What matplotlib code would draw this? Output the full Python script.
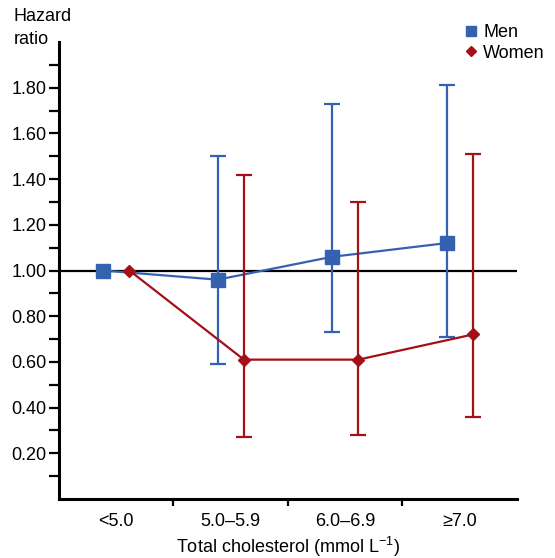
import numpy as np
import matplotlib
matplotlib.use("Agg")
import matplotlib.pyplot as plt
from matplotlib.ticker import FixedLocator, NullFormatter, FormatStrFormatter

plt.rcParams["font.family"] = ["Liberation Sans", "DejaVu Sans"]
plt.rcParams["mathtext.fontset"] = "custom"
plt.rcParams["mathtext.rm"] = "Liberation Sans"
plt.rcParams["mathtext.default"] = "regular"

categories = ["<5.0", "5.0\u20135.9", "6.0\u20136.9", "\u22657.0"]

men_hr = [1.00, 0.96, 1.06, 1.12]
men_lo = [1.00, 0.59, 0.73, 0.71]
men_hi = [1.00, 1.50, 1.73, 1.81]

women_hr = [1.00, 0.61, 0.61, 0.72]
women_lo = [1.00, 0.27, 0.28, 0.36]
women_hi = [1.00, 1.42, 1.30, 1.51]

men_color = "#3462B0"
women_color = "#A50F18"
FS = 13

fig = plt.figure(figsize=(5.55, 5.58), dpi=100)
ax = fig.add_axes([0.1063, 0.1057, 0.8252, 0.819])

centers = np.arange(len(categories)) + 0.5
offset = 0.115

ax.axhline(1.0, color="black", lw=1.6, zorder=1)


def draw_series(x, hr, lo, hi, color, marker, ms, label, z):
    hr = np.asarray(hr)
    err = np.vstack([hr - np.asarray(lo), np.asarray(hi) - hr])
    has_ci = err.sum(axis=0) > 0
    ax.errorbar(x[has_ci], hr[has_ci], yerr=err[:, has_ci], fmt="none",
                ecolor=color, elinewidth=1.6, capsize=6, capthick=1.6, zorder=z)
    ax.plot(x, hr, color=color, lw=1.6, marker=marker, ms=ms,
            mfc=color, mec=color, label=label, zorder=z + 1)


draw_series(centers - offset, men_hr, men_lo, men_hi, men_color, "s", 10.5, "Men", 2)
draw_series(centers + offset, women_hr, women_lo, women_hi, women_color, "D", 6.6, "Women", 4)

ax.set_xlim(0, len(categories))
ax.set_ylim(0, 2.0)

ax.xaxis.set_major_locator(FixedLocator([1, 2, 3]))
ax.xaxis.set_major_formatter(NullFormatter())
ax.xaxis.set_minor_locator(FixedLocator(centers))
ax.set_xticklabels(categories, minor=True)
ax.tick_params(axis="x", which="major", direction="out", length=5, width=1.6)
ax.tick_params(axis="x", which="minor", length=0, pad=10, labelsize=FS)

ax.yaxis.set_major_locator(FixedLocator([0.2, 0.4, 0.6, 0.8, 1.0, 1.2, 1.4, 1.6, 1.8]))
ax.yaxis.set_major_formatter(FormatStrFormatter("%.2f"))
ax.yaxis.set_minor_locator(FixedLocator([0.1, 0.3, 0.5, 0.7, 0.9, 1.1, 1.3, 1.5, 1.7, 1.9]))
ax.tick_params(axis="y", which="both", direction="out", length=7, width=1.6, pad=2,
               labelsize=FS)

for side in ("top", "right"):
    ax.spines[side].set_visible(False)
for side in ("left", "bottom"):
    ax.spines[side].set_linewidth(2.2)

fig.text(0.519, 1 - 547 / 558, "Total cholesterol (mmol L$^{\u22121}$)",
         ha="center", va="center", fontsize=FS)
fig.text(0.024, 0.985, "Hazard\nratio", ha="left", va="top", fontsize=FS,
         linespacing=1.4)

leg = ax.legend(loc="upper left", bbox_to_anchor=(0.822, 0.97),
                bbox_transform=fig.transFigure, frameon=False, fontsize=FS,
                handlelength=0.8, handletextpad=0.3, labelspacing=0.2,
                borderaxespad=0.0, markerscale=0.72)
for h in leg.legend_handles:
    h.set_linestyle("none")

fig.savefig("out.png", dpi=100)
